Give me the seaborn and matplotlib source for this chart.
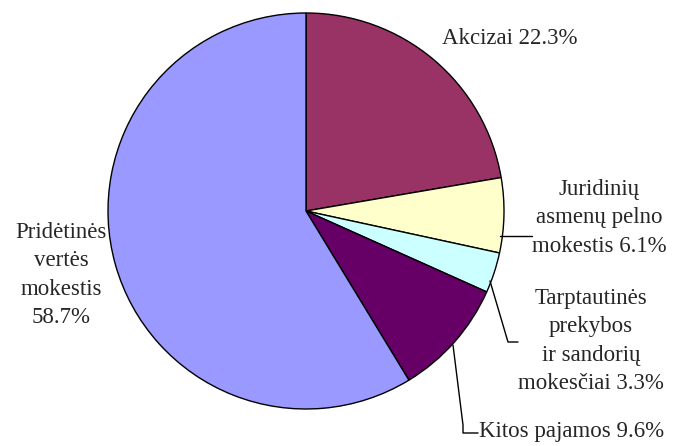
import matplotlib
matplotlib.use('Agg')
import matplotlib.pyplot as plt
import seaborn as sns

# data
categories = ["Akcizai", "Juridinių asmenų pelno mokestis",
              "Tarptautinės prekybos ir sandorių mokesčiai",
              "Kitos pajamos", "Pridėtinės vertės mokestis"]
shares = [22.3, 6.1, 3.3, 9.6, 58.7]
label_texts = ["Akcizai 22.3%",
               "Juridinių\nasmenų pelno\nmokestis 6.1%",
               "Tarptautinės\nprekybos\nir sandorių\nmokesčiai 3.3%",
               "Kitos pajamos 9.6%",
               "Pridėtinės\nvertės\nmokestis\n58.7%"]
colors = sns.color_palette(["#993366", "#FFFFCC", "#CCFFFF", "#660066", "#9999FF"])

sns.set_style("white")
plt.rcParams['font.family'] = ['Liberation Serif', 'DejaVu Serif']

W, H = 673, 446
fig = plt.figure(figsize=(W / 100, H / 100), dpi=100)
ax = fig.add_axes([0, 0, 1, 1])

cx, cy, r = 306, 211, 198
# y axis is inverted, so counterclock=True draws clockwise on screen
ax.pie(shares, colors=colors, startangle=-90, counterclock=True,
       center=(cx, cy), radius=r, frame=True,
       wedgeprops=dict(edgecolor='black', linewidth=1.0))
ax.set_xlim(0, W)
ax.set_ylim(H, 0)
ax.set_aspect('equal')
ax.axis('off')

# leader lines
lc = dict(color='black', linewidth=1.0)
ax.plot([500, 532], [236, 236], **lc)
ax.plot([490, 508, 518], [281, 342, 342], **lc)
ax.plot([453, 463, 463, 478], [345, 425, 433, 433], **lc)

fs = 16.5
ls = 1.44
ax.text(510, 38, label_texts[0], ha='center', va='center', fontsize=fs)
ax.text(599, 218, label_texts[1], ha='center', va='center', fontsize=fs, linespacing=ls)
ax.text(591, 341, label_texts[2], ha='center', va='center', fontsize=fs, linespacing=ls)
ax.text(572, 432, label_texts[3], ha='center', va='center', fontsize=fs)
ax.text(61, 275, label_texts[4], ha='center', va='center', fontsize=fs, linespacing=ls)

fig.savefig('out.png', dpi=100)
